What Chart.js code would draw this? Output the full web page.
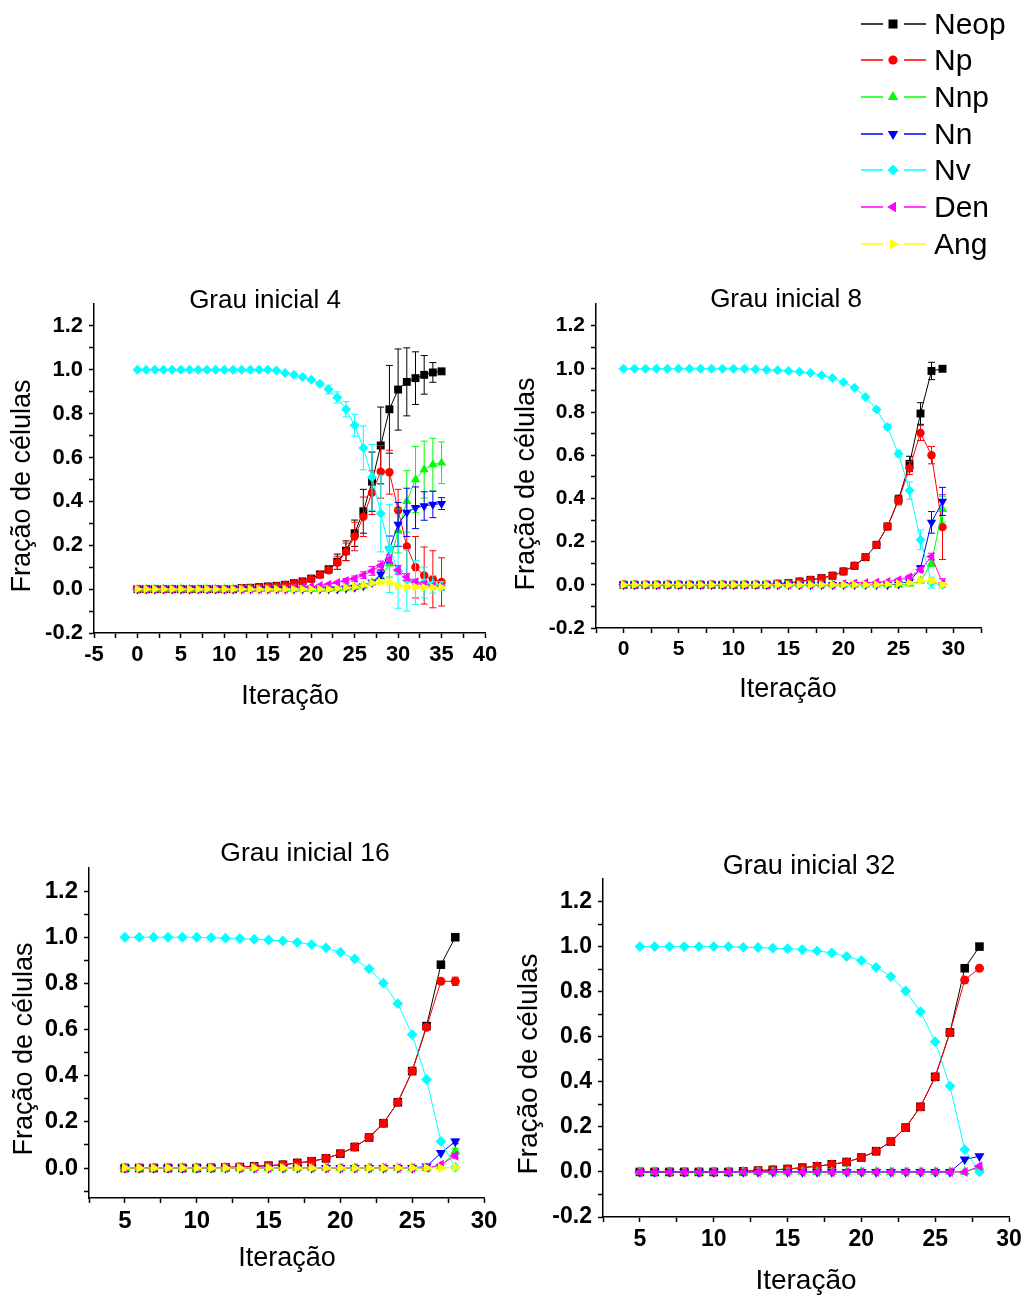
<!DOCTYPE html>
<html>
<head>
<meta charset="utf-8">
<title>Fração de células por iteração</title>
<script src="https://cdn.jsdelivr.net/npm/chart.js@4.4.1/dist/chart.umd.min.js"></script>
<style>
  html, body { margin: 0; padding: 0; background: #ffffff; }
  #page { position: relative; width: 1029px; height: 1300px; overflow: hidden; }
  canvas.panel { position: absolute; left: 0; top: 0; }
  #legend { position: absolute; left: 858px; top: 0; width: 171px; height: 265px;
            font-family: 'Liberation Sans', Arial, sans-serif; font-size: 30px; color: #000; }
  #legend .sample { position: absolute; left: 0; }
  #legend .name { position: absolute; left: 76px; line-height: 30px; white-space: nowrap; }
</style>
</head>
<body>
<div id="page"><div id="legend"></div></div>
<script>
// ---------- series names and tick labels ----------
const seriesNames = ['Neop', 'Np', 'Nnp', 'Nn', 'Nv', 'Den', 'Ang'];

const xTicksA = [-5, -2.5, 0, 2.5, 5, 7.5, 10, 12.5, 15, 17.5, 20, 22.5, 25, 27.5, 30, 32.5, 35, 37.5, 40];
const xLabelsA = ['-5', '0', '5', '10', '15', '20', '25', '30', '35', '40'];
const xTicksB = [-2.5, 0, 2.5, 5, 7.5, 10, 12.5, 15, 17.5, 20, 22.5, 25, 27.5, 30, 32.5];
const xLabelsB = ['0', '5', '10', '15', '20', '25', '30'];
const xTicksC = [2.5, 5, 7.5, 10, 12.5, 15, 17.5, 20, 22.5, 25, 27.5, 30];
const xLabelsC = ['5', '10', '15', '20', '25', '30'];
const yTicksA = [-0.2, -0.1, 0, 0.1, 0.2, 0.3, 0.4, 0.5, 0.6, 0.7, 0.8, 0.9, 1.0, 1.1, 1.2];
const yLabelsA = ['-0.2', '0.0', '0.2', '0.4', '0.6', '0.8', '1.0', '1.2'];
const yTicksC = [-0.1, 0, 0.1, 0.2, 0.3, 0.4, 0.5, 0.6, 0.7, 0.8, 0.9, 1.0, 1.1, 1.2];
const yLabelsC = ['0.0', '0.2', '0.4', '0.6', '0.8', '1.0', '1.2'];

// ---------- Grau inicial 4 ----------
const iter4 = [0, 1, 2, 3, 4, 5, 6, 7, 8, 9, 10, 11, 12, 13, 14, 15, 16, 17, 18, 19, 20, 21, 22, 23, 24, 25, 26, 27, 28, 29, 30, 31, 32, 33, 34, 35];
const neop4 = [0, 0, 0, 0, 0, 0, 0, 0, 0, 0, 0, 0, 0.005, 0.006, 0.009, 0.012, 0.015, 0.02, 0.027, 0.035, 0.048, 0.067, 0.09, 0.125, 0.175, 0.255, 0.355, 0.49, 0.655, 0.82, 0.91, 0.945, 0.962, 0.977, 0.988, 0.993];
const neop4Err = [0, 0, 0, 0, 0, 0, 0, 0, 0, 0, 0, 0, 0, 0, 0, 0, 0, 0, 0.003, 0.005, 0.007, 0.01, 0.015, 0.035, 0.045, 0.06, 0.1, 0.135, 0.175, 0.2, 0.185, 0.155, 0.12, 0.088, 0.045, 0.005];
const np4 = [0, 0, 0, 0, 0, 0, 0, 0, 0, 0, 0, 0, 0.004, 0.005, 0.008, 0.011, 0.014, 0.019, 0.026, 0.033, 0.046, 0.065, 0.086, 0.12, 0.17, 0.24, 0.33, 0.44, 0.535, 0.533, 0.36, 0.195, 0.1, 0.062, 0.045, 0.033];
const np4Err = [0, 0, 0, 0, 0, 0, 0, 0, 0, 0, 0, 0, 0, 0, 0, 0, 0, 0, 0.003, 0.005, 0.007, 0.01, 0.012, 0.03, 0.04, 0.065, 0.09, 0.1, 0.12, 0.1, 0.095, 0.155, 0.14, 0.13, 0.13, 0.11];
const nnp4 = [0, 0, 0, 0, 0, 0, 0, 0, 0, 0, 0, 0, 0, 0, 0, 0, 0, 0, 0, 0, 0, 0, 0, 0.003, 0.005, 0.008, 0.015, 0.03, 0.055, 0.115, 0.265, 0.4, 0.5, 0.545, 0.568, 0.576];
const nnp4Err = [0, 0, 0, 0, 0, 0, 0, 0, 0, 0, 0, 0, 0, 0, 0, 0, 0, 0, 0, 0, 0, 0, 0, 0, 0, 0, 0, 0.01, 0.03, 0.06, 0.1, 0.14, 0.15, 0.13, 0.12, 0.095];
const nn4 = [0, 0, 0, 0, 0, 0, 0, 0, 0, 0, 0, 0, 0, 0, 0, 0, 0, 0, 0, 0, 0, 0, 0, 0, 0.004, 0.008, 0.015, 0.03, 0.068, 0.182, 0.295, 0.35, 0.371, 0.379, 0.386, 0.39];
const nn4Err = [0, 0, 0, 0, 0, 0, 0, 0, 0, 0, 0, 0, 0, 0, 0, 0, 0, 0, 0, 0, 0, 0, 0, 0, 0, 0, 0, 0.01, 0.02, 0.06, 0.1, 0.11, 0.095, 0.065, 0.06, 0.027];
const nv4 = [1, 1, 1, 1, 1, 1, 1, 1, 1, 1, 1, 1, 1, 1, 1, 1, 0.997, 0.985, 0.977, 0.967, 0.955, 0.936, 0.91, 0.874, 0.82, 0.747, 0.644, 0.51, 0.345, 0.185, 0.083, 0.04, 0.03, 0.03, 0.022, 0.015];
const nv4Err = [0, 0, 0, 0, 0, 0, 0, 0, 0, 0, 0, 0, 0, 0, 0, 0, 0, 0, 0, 0, 0.005, 0.01, 0.02, 0.025, 0.035, 0.05, 0.1, 0.15, 0.175, 0.2, 0.17, 0.14, 0.1, 0.07, 0.04, 0.02];
const den4 = [0, 0, 0, 0, 0, 0, 0, 0, 0, 0, 0, 0, 0, 0, 0, 0, 0, 0, 0.005, 0.008, 0.012, 0.016, 0.022, 0.03, 0.038, 0.048, 0.064, 0.083, 0.108, 0.136, 0.088, 0.055, 0.033, 0.023, 0.015, 0.012];
const den4Err = [0, 0, 0, 0, 0, 0, 0, 0, 0, 0, 0, 0, 0, 0, 0, 0, 0, 0, 0, 0, 0, 0, 0, 0, 0.01, 0.012, 0.015, 0.02, 0.02, 0.02, 0.02, 0.015, 0.012, 0.01, 0.008, 0.006];
const ang4 = [0, 0, 0, 0, 0, 0, 0, 0, 0, 0, 0, 0, 0, 0, 0, 0, 0, 0, 0, 0, 0, 0, 0, 0.003, 0.006, 0.01, 0.018, 0.028, 0.033, 0.03, 0.015, 0.01, 0.01, 0.008, 0.008, 0.008];
const ang4Err = [0, 0, 0, 0, 0, 0, 0, 0, 0, 0, 0, 0, 0, 0, 0, 0, 0, 0, 0, 0, 0, 0, 0, 0, 0, 0, 0.005, 0.008, 0.01, 0.012, 0.01, 0.008, 0.008, 0.006, 0.006, 0.005];

// ---------- Grau inicial 8 ----------
const iter8 = [0, 1, 2, 3, 4, 5, 6, 7, 8, 9, 10, 11, 12, 13, 14, 15, 16, 17, 18, 19, 20, 21, 22, 23, 24, 25, 26, 27, 28, 29];
const neop8 = [0, 0, 0, 0, 0, 0, 0, 0, 0, 0, 0, 0, 0, 0, 0.005, 0.008, 0.015, 0.023, 0.031, 0.042, 0.062, 0.088, 0.128, 0.185, 0.27, 0.395, 0.56, 0.793, 0.99, 1.0];
const neop8Err = [0, 0, 0, 0, 0, 0, 0, 0, 0, 0, 0, 0, 0, 0, 0, 0, 0, 0, 0, 0, 0, 0, 0.004, 0.006, 0.01, 0.02, 0.035, 0.05, 0.04, 0];
const np8 = [0, 0, 0, 0, 0, 0, 0, 0, 0, 0, 0, 0, 0, 0, 0.005, 0.008, 0.015, 0.023, 0.031, 0.042, 0.062, 0.088, 0.128, 0.185, 0.27, 0.39, 0.54, 0.703, 0.6, 0.267];
const np8Err = [0, 0, 0, 0, 0, 0, 0, 0, 0, 0, 0, 0, 0, 0, 0, 0, 0, 0, 0, 0, 0, 0, 0.004, 0.006, 0.01, 0.02, 0.03, 0.035, 0.04, 0.15];
const nnp8 = [0, 0, 0, 0, 0, 0, 0, 0, 0, 0, 0, 0, 0, 0, 0, 0, 0, 0, 0, 0, 0, 0, 0, 0, 0, 0, 0.005, 0.018, 0.1, 0.35];
const nnp8Err = [0, 0, 0, 0, 0, 0, 0, 0, 0, 0, 0, 0, 0, 0, 0, 0, 0, 0, 0, 0, 0, 0, 0, 0, 0, 0, 0, 0.008, 0.015, 0.06];
const nn8 = [0, 0, 0, 0, 0, 0, 0, 0, 0, 0, 0, 0, 0, 0, 0, 0, 0, 0, 0, 0, 0, 0, 0, 0, 0, 0.003, 0.015, 0.077, 0.289, 0.386];
const nn8Err = [0, 0, 0, 0, 0, 0, 0, 0, 0, 0, 0, 0, 0, 0, 0, 0, 0, 0, 0, 0, 0, 0, 0, 0, 0, 0, 0.005, 0.012, 0.05, 0.065];
const nv8 = [1, 1, 1, 1, 1, 1, 1, 1, 1, 1, 1, 1, 0.998, 0.996, 0.993, 0.99, 0.986, 0.98, 0.97, 0.957, 0.938, 0.912, 0.87, 0.811, 0.73, 0.607, 0.436, 0.209, 0.01, 0];
const nv8Err = [0, 0, 0, 0, 0, 0, 0, 0, 0, 0, 0, 0, 0, 0, 0, 0, 0, 0, 0, 0, 0, 0, 0.005, 0.008, 0.012, 0.015, 0.04, 0.045, 0.025, 0];
const den8 = [0, 0, 0, 0, 0, 0, 0, 0, 0, 0, 0, 0, 0, 0, 0, 0, 0, 0, 0, 0, 0.005, 0.008, 0.01, 0.012, 0.015, 0.022, 0.036, 0.07, 0.131, 0.008];
const den8Err = [0, 0, 0, 0, 0, 0, 0, 0, 0, 0, 0, 0, 0, 0, 0, 0, 0, 0, 0, 0, 0, 0, 0, 0, 0, 0.005, 0.008, 0.01, 0.015, 0.02];
const ang8 = [0, 0, 0, 0, 0, 0, 0, 0, 0, 0, 0, 0, 0, 0, 0, 0, 0, 0, 0, 0, 0, 0, 0, 0, 0.003, 0.005, 0.008, 0.02, 0.018, 0];
const ang8Err = [0, 0, 0, 0, 0, 0, 0, 0, 0, 0, 0, 0, 0, 0, 0, 0, 0, 0, 0, 0, 0, 0, 0, 0, 0, 0, 0.004, 0.008, 0.01, 0.01];

// ---------- Grau inicial 16 ----------
const iter16 = [5, 6, 7, 8, 9, 10, 11, 12, 13, 14, 15, 16, 17, 18, 19, 20, 21, 22, 23, 24, 25, 26, 27, 28];
const neop16 = [0, 0, 0, 0, 0, 0, 0.001, 0.003, 0.004, 0.007, 0.01, 0.014, 0.022, 0.029, 0.042, 0.062, 0.091, 0.132, 0.194, 0.285, 0.42, 0.615, 0.881, 1.0];
const neop16Err = [0, 0, 0, 0, 0, 0, 0, 0, 0, 0, 0, 0, 0, 0, 0, 0, 0, 0, 0, 0, 0, 0.006, 0.006, 0];
const np16 = [0, 0, 0, 0, 0, 0, 0.001, 0.003, 0.004, 0.007, 0.01, 0.014, 0.022, 0.029, 0.042, 0.062, 0.091, 0.132, 0.194, 0.285, 0.42, 0.61, 0.809, 0.809];
const np16Err = [0, 0, 0, 0, 0, 0, 0, 0, 0, 0, 0, 0, 0, 0, 0, 0, 0, 0, 0, 0, 0, 0.008, 0.008, 0.018];
const nnp16 = [0, 0, 0, 0, 0, 0, 0, 0, 0, 0, 0, 0, 0, 0, 0, 0, 0, 0, 0, 0, 0, 0, 0.007, 0.072];
const nnp16Err = [0, 0, 0, 0, 0, 0, 0, 0, 0, 0, 0, 0, 0, 0, 0, 0, 0, 0, 0, 0, 0, 0, 0, 0.012];
const nn16 = [0, 0, 0, 0, 0, 0, 0, 0, 0, 0, 0, 0, 0, 0, 0, 0, 0, 0, 0, 0, 0, 0.007, 0.065, 0.115];
const nn16Err = [0, 0, 0, 0, 0, 0, 0, 0, 0, 0, 0, 0, 0, 0, 0, 0, 0, 0, 0, 0, 0, 0, 0, 0.01];
const nv16 = [1, 1, 1, 1, 1, 1, 0.998, 0.996, 0.994, 0.991, 0.988, 0.984, 0.978, 0.968, 0.954, 0.935, 0.906, 0.863, 0.801, 0.712, 0.578, 0.384, 0.115, 0.003];
const den16 = [0, 0, 0, 0, 0, 0, 0, 0, 0, 0, 0, 0, 0, 0, 0, 0, 0, 0, 0, 0, 0, 0, 0.014, 0.053];
const den16Err = [0, 0, 0, 0, 0, 0, 0, 0, 0, 0, 0, 0, 0, 0, 0, 0, 0, 0, 0, 0, 0, 0, 0, 0.01];
const ang16 = [0, 0, 0, 0, 0, 0, 0, 0, 0, 0, 0, 0, 0, 0, 0, 0, 0, 0, 0, 0, 0, 0, 0, 0.003];

// ---------- Grau inicial 32 ----------
const iter32 = [5, 6, 7, 8, 9, 10, 11, 12, 13, 14, 15, 16, 17, 18, 19, 20, 21, 22, 23, 24, 25, 26, 27, 28];
const neop32 = [0, 0, 0, 0, 0, 0, 0, 0.003, 0.006, 0.009, 0.013, 0.019, 0.025, 0.034, 0.044, 0.064, 0.092, 0.135, 0.197, 0.289, 0.422, 0.619, 0.904, 1.0];
const np32 = [0, 0, 0, 0, 0, 0, 0, 0.003, 0.006, 0.009, 0.013, 0.019, 0.025, 0.034, 0.044, 0.064, 0.092, 0.135, 0.197, 0.289, 0.422, 0.619, 0.852, 0.904];
const nnp32 = [0, 0, 0, 0, 0, 0, 0, 0, 0, 0, 0, 0, 0, 0, 0, 0, 0, 0, 0, 0, 0, 0, 0, 0.02];
const nn32 = [0, 0, 0, 0, 0, 0, 0, 0, 0, 0, 0, 0, 0, 0, 0, 0, 0, 0, 0, 0, 0, 0, 0.055, 0.07];
const nv32 = [1, 1, 1, 1, 1, 1, 1, 0.997, 0.996, 0.993, 0.991, 0.987, 0.981, 0.972, 0.956, 0.938, 0.908, 0.867, 0.803, 0.711, 0.578, 0.381, 0.099, 0];
const den32 = [0, 0, 0, 0, 0, 0, 0, 0, 0, 0, 0, 0, 0, 0, 0, 0, 0, 0, 0, 0, 0, 0, 0, 0.025];

// ---------- styling ----------
const FONT = "'Liberation Sans', Arial, sans-serif";
const seriesStyle = {
  Neop: { color: '#000000', shape: 'rect',     rotation: 0,   radius: 5.6 },
  Np:   { color: '#ff0000', shape: 'circle',   rotation: 0,   radius: 4.2 },
  Nnp:  { color: '#00ff00', shape: 'triangle', rotation: 0,   radius: 5.4 },
  Nn:   { color: '#0000ff', shape: 'triangle', rotation: 180, radius: 5.4 },
  Nv:   { color: '#00ffff', shape: 'rectRot',  rotation: 0,   radius: 5.0 },
  Den:  { color: '#ff00ff', shape: 'triangle', rotation: -90, radius: 5.4 },
  Ang:  { color: '#ffff00', shape: 'triangle', rotation: 90,  radius: 5.4 }
};
const Y_AXIS_W = 60;   // width reserved for y tick labels
const X_AXIS_H = 40;   // height reserved for x tick labels
const PAGE_W = 1029, PAGE_H = 1300;

const panels = [
  {
    title: 'Grau inicial 4', iter: iter4,
    series: [['Neop', neop4, neop4Err], ['Np', np4, np4Err], ['Nnp', nnp4, nnp4Err], ['Nn', nn4, nn4Err],
             ['Nv', nv4, nv4Err], ['Den', den4, den4Err], ['Ang', ang4, ang4Err]],
    area: { left: 94, right: 485, top: 304, bottom: 633 },
    xRange: [-5, 40], yRange: [-0.2, 1.3],
    xTicks: xTicksA, xLabels: xLabelsA, yTicks: yTicksA, yLabels: yLabelsA,
    titleAt: [265, 301], xTitleAt: [290, 697], yTitleAt: [23, 486],
    tickSize: 22, titleSize: 26, axisSize: 27, markerScale: 1
  },
  {
    title: 'Grau inicial 8', iter: iter8,
    series: [['Neop', neop8, neop8Err], ['Np', np8, np8Err], ['Nnp', nnp8, nnp8Err], ['Nn', nn8, nn8Err],
             ['Nv', nv8, nv8Err], ['Den', den8, den8Err], ['Ang', ang8, ang8Err]],
    area: { left: 596, right: 981, top: 304, bottom: 628 },
    xRange: [-2.5, 32.5], yRange: [-0.2, 1.3],
    xTicks: xTicksB, xLabels: xLabelsB, yTicks: yTicksA, yLabels: yLabelsA,
    titleAt: [786, 300], xTitleAt: [788, 690], yTitleAt: [527, 484],
    tickSize: 21, titleSize: 26, axisSize: 27, markerScale: 1
  },
  {
    title: 'Grau inicial 16', iter: iter16,
    series: [['Neop', neop16, neop16Err], ['Np', np16, np16Err], ['Nnp', nnp16, nnp16Err], ['Nn', nn16, nn16Err],
             ['Nv', nv16, null], ['Den', den16, den16Err], ['Ang', ang16, null]],
    area: { left: 89, right: 484, top: 868, bottom: 1198 },
    xRange: [2.5, 30], yRange: [-0.13, 1.3],
    xTicks: xTicksC, xLabels: xLabelsC, yTicks: yTicksC, yLabels: yLabelsC,
    titleAt: [305, 854], xTitleAt: [287, 1259], yTitleAt: [25, 1049],
    tickSize: 24, titleSize: 26.5, axisSize: 27, markerScale: 1.08
  },
  {
    title: 'Grau inicial 32', iter: iter32,
    series: [['Neop', neop32, null], ['Np', np32, null], ['Nnp', nnp32, null], ['Nn', nn32, null],
             ['Nv', nv32, null], ['Den', den32, null]],
    area: { left: 603, right: 1009, top: 879, bottom: 1217 },
    xRange: [2.5, 30], yRange: [-0.2, 1.3],
    xTicks: xTicksC, xLabels: xLabelsC, yTicks: yTicksA, yLabels: yLabelsA,
    titleAt: [809, 867], xTitleAt: [806, 1281], yTitleAt: [529, 1064],
    tickSize: 23, titleSize: 27, axisSize: 28, markerScale: 1.08
  }
];

// ---------- plugins ----------
// Vertical error bars with caps, drawn just before each dataset's own line and markers.
const errorBars = {
  id: 'errorBars',
  beforeDatasetDraw(chart, args) {
    const ds = chart.data.datasets[args.index];
    if (!ds.errors) return;
    const xs = chart.scales.x, ys = chart.scales.y, ctx = chart.ctx;
    ctx.save();
    ctx.strokeStyle = ds.borderColor;
    ctx.lineWidth = 1;
    ds.data.forEach((pt, i) => {
      const e = ds.errors[i];
      if (!e) return;
      const px = xs.getPixelForValue(pt.x);
      const top = ys.getPixelForValue(pt.y + e);
      const bot = ys.getPixelForValue(pt.y - e);
      ctx.beginPath();
      ctx.moveTo(px, top); ctx.lineTo(px, bot);
      ctx.moveTo(px - 3.5, top); ctx.lineTo(px + 3.5, top);
      ctx.moveTo(px - 3.5, bot); ctx.lineTo(px + 3.5, bot);
      ctx.stroke();
    });
    ctx.restore();
  }
};

// Panel heading and axis titles.
const panelText = {
  id: 'panelText',
  afterDraw(chart, args, o) {
    const ctx = chart.ctx;
    ctx.save();
    ctx.fillStyle = '#000';
    ctx.textAlign = 'center';
    ctx.textBaseline = 'middle';
    ctx.font = `${o.titleSize}px ${FONT}`;
    ctx.fillText(o.title, o.titleAt[0], o.titleAt[1]);
    ctx.font = `${o.axisSize}px ${FONT}`;
    ctx.fillText(o.xTitle, o.xTitleAt[0], o.xTitleAt[1]);
    ctx.translate(o.yTitleAt[0], o.yTitleAt[1]);
    ctx.rotate(-Math.PI / 2);
    ctx.fillText(o.yTitle, 0, 0);
    ctx.restore();
  }
};

function labelFor(labels) {
  return v => {
    const hit = labels.find(l => Math.abs(Number(l) - v) < 1e-6);
    return hit === undefined ? '' : hit;
  };
}

function axisStyle(size) {
  return {
    grid: { drawOnChartArea: false, drawTicks: true, tickLength: 5, tickWidth: 1.5, tickColor: '#000' },
    border: { display: true, color: '#000', width: 1.5 },
    ticks: { color: '#000', font: { family: FONT, size: size, weight: 'bold' }, autoSkip: false, maxRotation: 0, minRotation: 0 }
  };
}

const page = document.getElementById('page');

panels.forEach(p => {
  const canvas = document.createElement('canvas');
  canvas.className = 'panel';
  canvas.width = PAGE_W;
  canvas.height = PAGE_H;
  page.insertBefore(canvas, page.firstChild);

  const datasets = p.series.map(([name, values, errs]) => {
    const st = seriesStyle[name];
    return {
      label: name,
      data: p.iter.map((it, i) => ({ x: it, y: values[i] })),
      errors: errs,
      borderColor: st.color,
      backgroundColor: st.color,
      borderWidth: 1,
      pointStyle: st.shape,
      pointRotation: st.rotation,
      pointRadius: st.radius * p.markerScale,
      pointBorderWidth: 0,
      pointBackgroundColor: st.color,
      tension: 0,
      clip: false,
      order: seriesNames.length - seriesNames.indexOf(name)
    };
  });

  const xs = axisStyle(p.tickSize), ysOpt = axisStyle(p.tickSize);
  new Chart(canvas, {
    type: 'line',
    data: { datasets },
    options: {
      responsive: false,
      animation: false,
      events: [],
      layout: {
        padding: {
          left: p.area.left - Y_AXIS_W,
          right: PAGE_W - p.area.right,
          top: p.area.top,
          bottom: PAGE_H - p.area.bottom - X_AXIS_H
        }
      },
      plugins: {
        legend: { display: false },
        tooltip: { enabled: false },
        title: { display: false },
        panelText: {
          title: p.title, titleAt: p.titleAt, titleSize: p.titleSize,
          xTitle: 'Iteração', xTitleAt: p.xTitleAt,
          yTitle: 'Fração de células', yTitleAt: p.yTitleAt, axisSize: p.axisSize
        }
      },
      scales: {
        x: {
          type: 'linear', position: 'bottom',
          min: p.xRange[0], max: p.xRange[1],
          afterFit: s => { s.height = X_AXIS_H; },
          afterBuildTicks: s => { s.ticks = p.xTicks.map(v => ({ value: v })); },
          grid: xs.grid, border: xs.border,
          ticks: Object.assign({}, xs.ticks, { padding: 4, callback: labelFor(p.xLabels) })
        },
        y: {
          type: 'linear', position: 'left',
          min: p.yRange[0], max: p.yRange[1],
          afterFit: s => { s.width = Y_AXIS_W; },
          afterBuildTicks: s => { s.ticks = p.yTicks.map(v => ({ value: v })); },
          grid: ysOpt.grid, border: ysOpt.border,
          ticks: Object.assign({}, ysOpt.ticks, { padding: 6, callback: labelFor(p.yLabels) })
        }
      }
    },
    plugins: [errorBars, panelText]
  });
});

// ---------- legend (line + marker sample and name) ----------
const legendRows = [23.5, 60, 97, 133.5, 170, 207, 243.5];
const legend = document.getElementById('legend');
const SVGNS = 'http://www.w3.org/2000/svg';

function markerPath(shape, rotation, cx, cy) {
  if (shape === 'rect') {
    return `M${cx - 4.5} ${cy - 4.5}h9v9h-9z`;
  }
  if (shape === 'rectRot') {
    return `M${cx} ${cy - 5.5}L${cx + 5.5} ${cy}L${cx} ${cy + 5.5}L${cx - 5.5} ${cy}Z`;
  }
  const r = 6;
  const pts = [];
  for (let k = 0; k < 3; k++) {
    const a = (rotation + k * 120) * Math.PI / 180;
    pts.push(`${(cx + Math.sin(a) * r).toFixed(2)} ${(cy - Math.cos(a) * r).toFixed(2)}`);
  }
  return 'M' + pts.join('L') + 'Z';
}

seriesNames.forEach((name, i) => {
  const st = seriesStyle[name];
  const cy = legendRows[i];
  const svg = document.createElementNS(SVGNS, 'svg');
  svg.setAttribute('class', 'sample');
  svg.setAttribute('width', '72');
  svg.setAttribute('height', '20');
  svg.style.top = (cy - 10) + 'px';
  const line1 = document.createElementNS(SVGNS, 'line');
  line1.setAttribute('x1', '3'); line1.setAttribute('x2', '25');
  line1.setAttribute('y1', '10'); line1.setAttribute('y2', '10');
  const line2 = document.createElementNS(SVGNS, 'line');
  line2.setAttribute('x1', '46'); line2.setAttribute('x2', '68');
  line2.setAttribute('y1', '10'); line2.setAttribute('y2', '10');
  [line1, line2].forEach(l => { l.setAttribute('stroke', st.color); l.setAttribute('stroke-width', '1.5'); svg.appendChild(l); });
  if (st.shape === 'circle') {
    const c = document.createElementNS(SVGNS, 'circle');
    c.setAttribute('cx', '35'); c.setAttribute('cy', '10'); c.setAttribute('r', '4.6');
    c.setAttribute('fill', st.color);
    svg.appendChild(c);
  } else {
    const m = document.createElementNS(SVGNS, 'path');
    m.setAttribute('d', markerPath(st.shape, st.rotation, 35, 10));
    m.setAttribute('fill', st.color);
    svg.appendChild(m);
  }
  legend.appendChild(svg);

  const label = document.createElement('div');
  label.className = 'name';
  label.textContent = name;
  label.style.top = (cy - 14.6) + 'px';
  legend.appendChild(label);
});
</script>
</body>
</html>
